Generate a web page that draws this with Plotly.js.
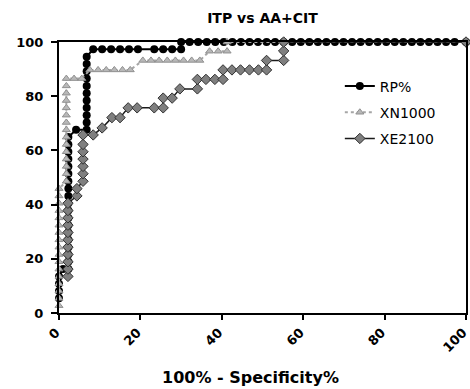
<!DOCTYPE html>
<html>
<head>
<meta charset="utf-8">
<script src="https://cdn.plot.ly/plotly-3.0.1.min.js"></script>
<style>html,body{margin:0;padding:0;background:#fff;}#chart{width:470px;height:389px;}</style>
</head>
<body>
<div id="chart"></div>
<script>
const chartTitle = "ITP vs AA+CIT";
const xTitle = "100% - Specificity%";
const seriesNames = ["RP%", "XN1000", "XE2100"];
const tickValues = [0, 20, 40, 60, 80, 100];

const rpX = [0, 0, 0, 0, 1.0,
  2.3, 2.3, 2.3, 2.3, 2.3, 2.3, 2.3, 2.3, 2.3, 2.3, 2.3, 2.3, 2.3, 2.3, 2.3, 2.3, 2.3, 2.3, 2.3,
  4.2,
  6.8, 6.8, 6.8, 6.8, 6.8, 6.8, 6.8, 6.8, 6.8, 6.8, 6.8,
  8.4, 10.6, 12.8, 15.0, 17.2, 19.4, 23.4, 25.6, 27.8, 30.0,
  30.0, 32.1, 34.2, 36.3, 38.4, 40.5, 42.6, 44.7, 46.8, 48.9, 51.0, 53.1, 55.2, 57.3, 59.4, 61.5,
  63.6, 65.7, 67.8, 69.9, 72.0, 74.1, 76.2, 78.3, 80.4, 82.5, 84.6, 86.7, 88.8, 90.9, 93.0, 95.1, 97.2, 100];
const rpY = [5.4, 8.1, 10.8, 13.5, 16.2,
  16.2, 18.9, 21.6, 24.3, 27.0, 29.7, 32.4, 35.1, 37.8, 40.5, 43.2, 45.9, 48.6, 51.4, 54.1, 56.8, 59.5, 62.2, 64.9,
  67.6,
  67.6, 70.3, 73.0, 75.7, 78.4, 81.1, 83.8, 86.5, 89.2, 91.9, 94.6,
  97.3, 97.3, 97.3, 97.3, 97.3, 97.3, 97.3, 97.3, 97.3, 97.3,
  100, 100, 100, 100, 100, 100, 100, 100, 100, 100, 100, 100, 100, 100, 100, 100,
  100, 100, 100, 100, 100, 100, 100, 100, 100, 100, 100, 100, 100, 100, 100, 100, 100, 100];

const xnX = [0, 0, 0, 0, 0, 0, 0, 0, 0, 0, 0, 0, 0, 0, 0, 0, 0,
  1.8, 1.8, 1.8, 1.8, 1.8, 1.8, 1.8, 1.8, 1.8, 1.8, 1.8, 1.8, 1.8, 1.8, 1.8,
  3.7, 5.6, 7.6, 9.6, 11.6, 13.6, 15.6, 17.5,
  20.6, 22.6, 24.6, 26.6, 28.6, 30.6, 32.6, 34.6,
  37.0, 39.1, 41.3, 41.3, 55.5, 100];
const xnY = [2.7, 5.4, 8.1, 10.8, 13.5, 16.2, 18.9, 21.6, 24.3, 27.0, 29.7, 32.4, 35.1, 37.8, 40.5, 43.2, 45.9,
  48.6, 51.4, 54.1, 56.8, 59.5, 62.2, 64.9, 67.6, 70.3, 73.0, 75.7, 78.4, 81.1, 83.8, 86.5,
  86.5, 86.5, 89.7, 89.7, 89.7, 89.7, 89.7, 89.7,
  93.2, 93.2, 93.2, 93.2, 93.2, 93.2, 93.2, 93.2,
  96.6, 96.6, 96.6, 100, 100, 100];

const xeX = [2.2, 2.2, 2.2, 2.2, 2.2, 2.2, 2.2, 2.2, 2.2, 2.2, 2.2,
  4.4, 4.4,
  5.9, 5.9, 5.9, 5.9, 5.9, 5.9, 5.9,
  8.4, 10.6, 13.0, 15.0, 17.0, 19.2, 23.4, 25.6, 25.6, 27.8, 29.7, 34.0, 34.0, 36.1, 38.3, 40.3,
  40.3, 42.5, 44.6, 46.8, 49.0, 51.0, 51.0, 55.2, 55.2, 55.2, 100];
const xeY = [13.5, 16.2, 18.9, 21.6, 24.3, 27.0, 29.7, 32.4, 35.1, 37.8, 40.5,
  43.2, 45.9,
  48.6, 51.4, 54.1, 56.8, 59.5, 62.2, 65.7,
  65.7, 68.3, 72.1, 72.1, 75.7, 75.7, 75.7, 75.7, 79.3, 79.3, 82.7, 82.7, 86.2, 86.2, 86.2, 86.2,
  89.7, 89.7, 89.7, 89.7, 89.7, 89.7, 93.2, 93.2, 96.7, 100, 100];

const FONT = "DejaVu Sans, Liberation Sans, Arial, sans-serif";

const traces = [
  {
    x: rpX, y: rpY, name: seriesNames[0], type: "scatter", mode: "lines+markers",
    line: {color: "#000000", width: 2},
    marker: {symbol: "circle", size: 8, color: "#000000"},
    legendgroup: "a", cliponaxis: false
  },
  {
    x: xnX, y: xnY, name: seriesNames[1], type: "scatter", mode: "lines+markers",
    line: {color: "#a6a6a6", width: 2, dash: "dot"},
    marker: {symbol: "triangle-up", size: 7, color: "#b8b8b8", line: {color: "#909090", width: 1}},
    legendgroup: "b", cliponaxis: false
  },
  {
    x: xeX, y: xeY, name: seriesNames[2], type: "scatter", mode: "lines+markers",
    line: {color: "#1a1a1a", width: 1.5},
    marker: {symbol: "diamond", size: 8, color: "#7f7f7f", line: {color: "#303030", width: 1}},
    legendgroup: "c", cliponaxis: false
  }
];

const layout = {
  width: 470, height: 389,
  margin: {l: 59, r: 4, t: 42, b: 76},
  paper_bgcolor: "#ffffff", plot_bgcolor: "#ffffff",
  font: {family: FONT, color: "#000000"},
  title: {text: "<b>" + chartTitle + "</b>", font: {size: 14, family: FONT, color: "#000"},
    x: 0.5, xref: "paper", y: 1 - 18/389, yref: "container", yanchor: "middle"},
  xaxis: {
    range: [0, 100], tickvals: tickValues, ticktext: tickValues.map(String),
    tickangle: -45, ticks: "outside", ticklen: 5, tickwidth: 2, tickcolor: "#000",
    showline: true, linewidth: 2, linecolor: "#000", mirror: true,
    showgrid: false, zeroline: false, ticklabeloverflow: "allow", ticklabelshift: -3,
    tickfont: {size: 13, family: FONT, weight: "bold"}
  },
  yaxis: {
    range: [0, 100], tickvals: tickValues, ticktext: tickValues.map(String),
    ticks: "outside", ticklen: 6, tickwidth: 2, tickcolor: "#000",
    showline: true, linewidth: 2, linecolor: "#000", mirror: true,
    showgrid: false, zeroline: false, ticklabelstandoff: 5,
    tickfont: {size: 13, family: FONT, weight: "bold"}
  },
  annotations: [{
    text: "<b>" + xTitle + "</b>", xref: "paper", yref: "paper",
    x: (250 - 59) / 407, y: -(377 - 313) / 271, xanchor: "center", yanchor: "middle",
    showarrow: false, font: {size: 16, family: FONT, color: "#000"}
  }],
  showlegend: true,
  legend: {x: 0.69, y: 0.895, xanchor: "left", yanchor: "top", bgcolor: "rgba(0,0,0,0)",
    font: {size: 14, family: FONT}, tracegroupgap: 5, traceorder: "grouped"}
};

Plotly.newPlot("chart", traces, layout, {staticPlot: true, displayModeBar: false});
</script>
</body>
</html>
